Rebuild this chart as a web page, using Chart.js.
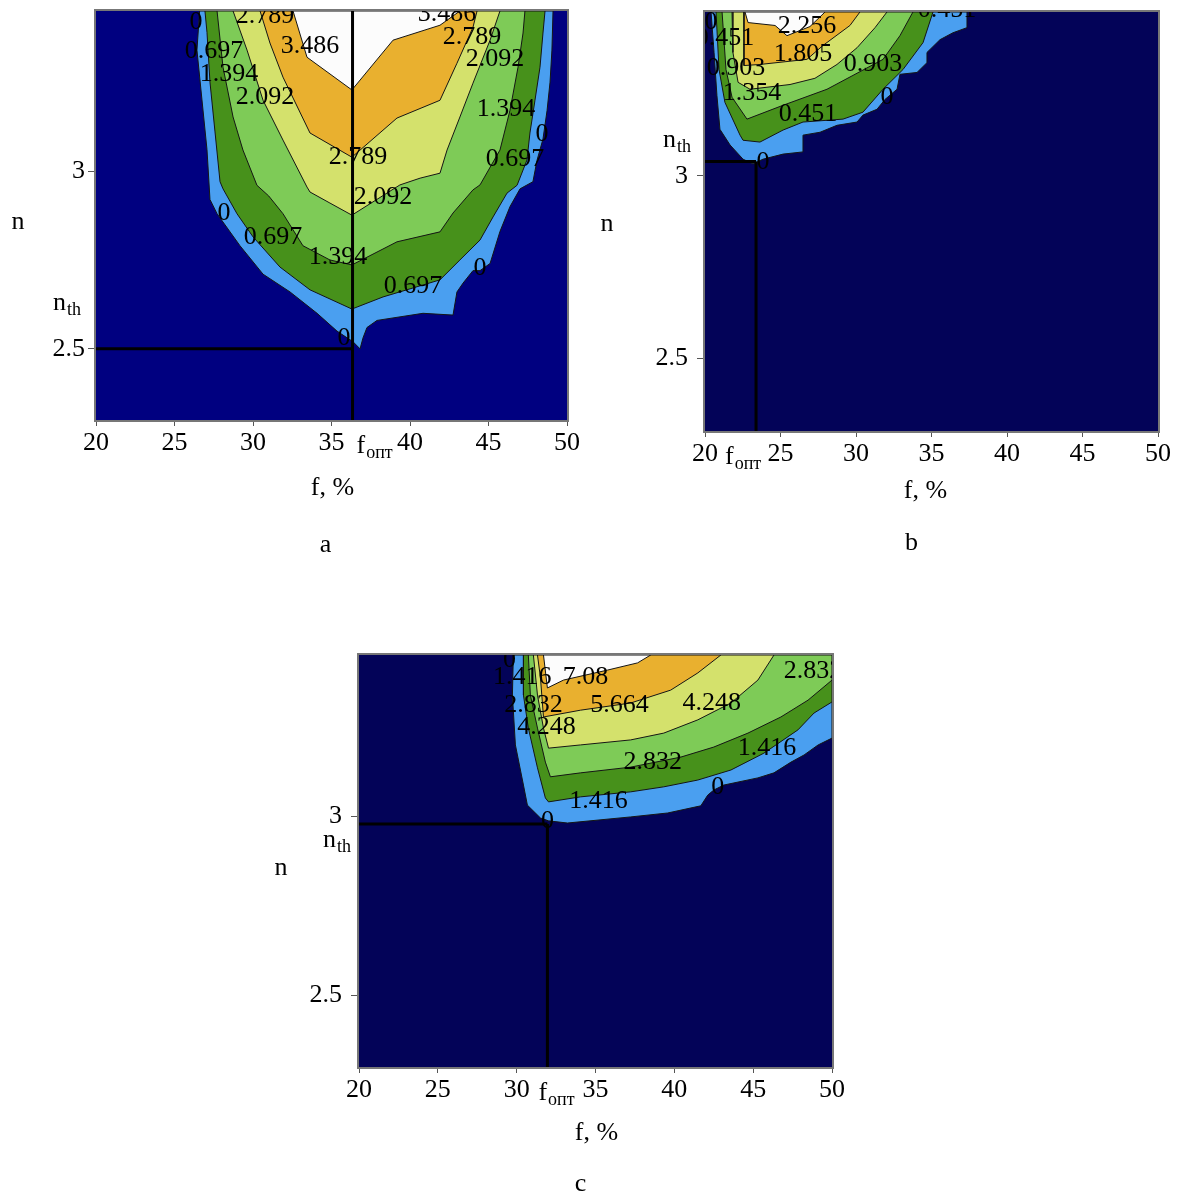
<!DOCTYPE html>
<html>
<head>
<meta charset="utf-8">
<title>n–f contour maps</title>
<script src="https://cdn.jsdelivr.net/npm/chart.js@4.4.1/dist/chart.umd.min.js"></script>
<style>
  body { margin: 0; background: #fff; width: 1177px; height: 1194px; position: relative; overflow: hidden; }
  canvas { position: absolute; }
</style>
</head>
<body>
<canvas id="chartA" width="600" height="580" style="left:0;top:0"></canvas>
<canvas id="chartB" width="577" height="580" style="left:600px;top:0"></canvas>
<canvas id="chartC" width="620" height="594" style="left:240px;top:600px"></canvas>
<script>
// axes shared by all three maps
const fTicks = [20, 25, 30, 35, 40, 45, 50];
const nTicks = [2.5, 3];
const fRange = [20, 50];
const nRange = [2.3, 3.45];

// fill colours, lowest contour band first
const levelColors = ['#4a9ff0', '#47911b', '#7ecb57', '#d4e16c', '#e9b02f', '#fcfcfc'];

// ---- map a ----
const levelsA = [0, 0.697, 1.394, 2.092, 2.789, 3.486];
const contoursA = [
  [[26.6,3.45],[26.43,3.34],[26.75,3.2],[27.07,3.06],[27.26,2.92],[27.71,2.88],[29.17,2.79],[30.64,2.71],[32.36,2.66],[34.08,2.6],[35.35,2.55],[36.37,2.52],[36.82,2.5],[37.0,2.53],[37.26,2.56],[37.9,2.58],[40.83,2.6],[42.74,2.595],[42.99,2.66],[43.38,2.685],[44.01,2.72],[44.46,2.72],[45.1,2.74],[45.73,2.83],[46.37,2.9],[47.01,2.95],[47.83,2.97],[48.09,3.03],[48.47,3.09],[48.73,3.17],[48.92,3.25],[49.04,3.34],[49.11,3.45]],
  [[26.94,3.45],[27.07,3.39],[27.26,3.25],[27.58,3.11],[27.9,2.97],[28.09,2.95],[28.98,2.88],[30.0,2.815],[31.72,2.73],[33.63,2.666],[36.3,2.612],[38.28,2.646],[41.91,2.694],[43.18,2.75],[44.46,2.806],[45.29,2.871],[46.18,2.938],[46.82,2.96],[47.45,3.031],[47.64,3.107],[47.96,3.199],[48.28,3.292],[48.47,3.388],[48.6,3.45]],
  [[27.71,3.45],[28.09,3.292],[28.73,3.152],[29.36,3.059],[30.25,2.96],[31.0,2.93],[31.91,2.88],[33.18,2.79],[34.9,2.75],[36.3,2.736],[39.17,2.801],[41.91,2.829],[42.74,2.882],[44.01,2.947],[44.46,2.961],[45.73,3.059],[46.37,3.171],[46.88,3.292],[47.2,3.388],[47.32,3.45]],
  [[28.73,3.45],[29.62,3.34],[30.64,3.199],[31.91,3.087],[33.44,2.955],[33.63,2.941],[34.9,2.91],[36.3,2.876],[39.36,2.961],[40.64,2.98],[41.91,2.994],[42.36,3.059],[43.18,3.152],[44.01,3.247],[45.1,3.368],[45.73,3.45]],
  [[30.45,3.45],[31.08,3.36],[31.91,3.264],[33.63,3.107],[36.3,3.039],[39.17,3.149],[41.91,3.199],[42.99,3.303],[44.01,3.404],[44.27,3.45]],
  [[32.55,3.45],[33.44,3.32],[36.3,3.228],[38.92,3.368],[41.91,3.41],[43.18,3.45]]
];
// contour labels: f, n, index into levelsA
const labelsA = [
  [26.37,3.419,0],[30.76,3.435,4],[42.36,3.442,5],[27.52,3.337,1],[33.63,3.351,5],[43.95,3.376,4],
  [28.47,3.272,2],[45.41,3.315,3],[30.76,3.208,3],[46.11,3.174,2],[48.41,3.104,0],[36.69,3.039,4],
  [46.69,3.034,1],[38.28,2.927,3],[28.15,2.882,0],[31.27,2.815,1],[35.41,2.758,2],[40.19,2.677,1],
  [44.46,2.728,0],[35.8,2.531,0]
];
const fOptA = 36.34;
const nThA = 2.5;

// ---- map b ----
const levelsB = [0, 0.451, 0.903, 1.354, 1.805, 2.256];
const contoursB = [
  [[20.4,3.45],[20.6,3.339],[20.79,3.221],[20.99,3.128],[21.66,3.085],[22.52,3.046],[23.18,3.033],[23.84,3.046],[25.17,3.06],[26.49,3.066],[26.49,3.112],[27.62,3.12],[28.74,3.139],[30.07,3.148],[30.46,3.167],[31.39,3.183],[31.92,3.21],[32.72,3.238],[32.91,3.279],[34.04,3.284],[34.7,3.311],[34.7,3.339],[35.56,3.374],[36.42,3.393],[37.35,3.407],[37.35,3.45]],
  [[20.73,3.45],[20.93,3.292],[21.32,3.202],[22.32,3.112],[22.52,3.098],[23.64,3.093],[25.17,3.126],[26.49,3.148],[29.14,3.156],[30.46,3.175],[31.79,3.238],[33.11,3.292],[34.44,3.366],[35.1,3.45]],
  [[21.13,3.45],[21.39,3.292],[21.79,3.216],[22.78,3.156],[25.17,3.194],[28.08,3.238],[29.8,3.276],[31.79,3.32],[32.91,3.385],[33.77,3.45]],
  [[21.79,3.45],[21.85,3.339],[22.19,3.257],[22.98,3.238],[25.63,3.251],[27.28,3.268],[28.74,3.306],[30.07,3.352],[31.26,3.407],[32.05,3.45]],
  [[22.58,3.45],[22.58,3.303],[23.64,3.306],[26.75,3.32],[27.81,3.358],[29.6,3.413],[30.26,3.45]],
  [[22.65,3.45],[22.85,3.421],[24.64,3.413],[25.43,3.385],[26.95,3.41],[27.95,3.45]]
];
const labelsB = [
  [20.4,3.421,0],[26.75,3.41,5],[21.32,3.377,1],[36.03,3.454,1],[26.49,3.333,4],[22.05,3.295,2],
  [31.13,3.306,2],[23.11,3.227,3],[32.05,3.216,0],[26.82,3.169,1],[23.84,3.038,0]
];
const fOptB = 23.38;
const nThB = 3.04;

// ---- map c ----
const levelsC = [0, 1.416, 2.832, 4.248, 5.664, 7.08];
const contoursC = [
  [[29.79,3.45],[29.73,3.338],[29.92,3.199],[30.43,3.087],[30.68,3.031],[31.51,2.995],[32.02,2.987],[33.22,2.981],[37.23,2.998],[39.58,3.009],[41.68,3.029],[42.12,3.059],[42.5,3.073],[43.14,3.087],[45.3,3.107],[46.32,3.121],[47.4,3.151],[48.23,3.171],[49.12,3.199],[50,3.218],[50,3.45]],
  [[30.43,3.45],[30.43,3.338],[30.74,3.246],[31.32,3.135],[31.82,3.051],[32.02,3.04],[34.05,3.054],[37.23,3.068],[39.33,3.082],[41.49,3.101],[43.59,3.129],[45.68,3.176],[47.84,3.241],[48.86,3.288],[50,3.319],[50,3.45]],
  [[30.74,3.45],[30.87,3.338],[31.32,3.246],[31.82,3.151],[32.14,3.11],[34.05,3.121],[37.23,3.137],[40.41,3.165],[42.5,3.193],[44.67,3.232],[46.76,3.277],[48.48,3.324],[50,3.38],[50,3.45]],
  [[31.06,3.45],[31.32,3.338],[31.7,3.246],[32.02,3.19],[34.05,3.199],[37.23,3.213],[39.33,3.232],[41.49,3.269],[43.59,3.316],[45.3,3.38],[46.32,3.45]],
  [[31.32,3.45],[31.51,3.386],[31.7,3.277],[34.05,3.296],[37.23,3.316],[39.77,3.352],[41.49,3.4],[42.95,3.45]],
  [[31.7,3.45],[31.95,3.358],[32.97,3.38],[35.77,3.408],[37.67,3.428],[38.5,3.45]]
];
const labelsC = [
  [29.54,3.436,0],[30.36,3.389,1],[34.37,3.389,5],[31.06,3.31,2],[36.53,3.31,4],[42.38,3.316,3],
  [48.8,3.405,2],[31.89,3.249,3],[45.87,3.19,1],[38.63,3.151,2],[42.76,3.082,0],[35.19,3.043,1],
  [31.95,2.987,0]
];
const fOptC = 31.95;
const nThC = 2.978;

const SERIF = '"Liberation Serif", "Times New Roman", serif';
Chart.defaults.font.family = SERIF;
Chart.defaults.font.size = 26;
Chart.defaults.color = '#000';

const panels = [
  {
    canvas: 'chartA', letter: 'a', background: '#000080',
    levels: levelsA, contours: contoursA, labels: labelsA, fOpt: fOptA, nTh: nThA,
    guides: [[[fOptA, nRange[1]], [fOptA, nRange[0]]], [[fRange[0], nThA], [fOptA, nThA]]],
    padding: { left: 0, top: 11, right: 33, bottom: 0 }, yAxisWidth: 96, xAxisHeight: 160, yTickPad: 3,
    text: { nTitleDx: -78, nTitleAt: 2.857, nthDx: -43, nthDy: -39, foptDx: 4, fTitleDx: 1, fTitleDy: 68, letterDx: -6, letterDy: 125 }
  },
  {
    canvas: 'chartB', letter: 'b', background: '#030358',
    levels: levelsB, contours: contoursB, labels: labelsB, fOpt: fOptB, nTh: nThB,
    guides: [[[fOptB, nThB], [fOptB, nRange[0]]], [[fRange[0], nThB], [fOptB, nThB]]],
    padding: { left: 0, top: 12, right: 19, bottom: 0 }, yAxisWidth: 105, xAxisHeight: 149, yTickPad: 9,
    text: { nTitleDx: -98, nTitleAt: 2.868, nthDx: -42, nthDy: -14, foptDx: -31, fTitleDx: -6, fTitleDy: 60, letterDx: -20, letterDy: 112 }
  },
  {
    canvas: 'chartC', letter: 'c', background: '#030358',
    levels: levelsC, contours: contoursC, labels: labelsC, fOpt: fOptC, nTh: nThC,
    guides: [[[fOptC, nThC], [fOptC, nRange[0]]], [[fRange[0], nThC], [fOptC, nThC]]],
    padding: { left: 0, top: 55, right: 28, bottom: 0 }, yAxisWidth: 119, xAxisHeight: 127, yTickPad: 9,
    text: { nTitleDx: -78, nTitleAt: 2.855, nthDx: -36, nthDy: 23, foptDx: -9, fTitleDx: 1, fTitleDy: 66, letterDx: -15, letterDy: 117 }
  }
];

// text with a lowered subscript, e.g. n_th
function withSub(ctx, x, y, main, sub) {
  ctx.font = '26px ' + SERIF;
  ctx.textAlign = 'left';
  ctx.textBaseline = 'alphabetic';
  ctx.fillText(main, x, y);
  const w = ctx.measureText(main).width;
  ctx.font = '18px ' + SERIF;
  ctx.fillText(sub, x + w + 1, y + 5);
}

function decorPlugin(p) {
  return {
    id: 'panelDecor',
    beforeDatasetsDraw(chart) {
      const { ctx, chartArea: a } = chart;
      ctx.save();
      ctx.fillStyle = p.background;
      ctx.fillRect(a.left, a.top, a.right - a.left, a.bottom - a.top);
      ctx.restore();
    },
    afterDatasetsDraw(chart) {
      const { ctx, chartArea: a, scales: { x, y } } = chart;
      // contour values, cut off at the plot edge
      ctx.save();
      ctx.beginPath();
      ctx.rect(a.left, a.top, a.right - a.left, a.bottom - a.top);
      ctx.clip();
      ctx.font = '26px ' + SERIF;
      ctx.fillStyle = '#000';
      ctx.textAlign = 'center';
      ctx.textBaseline = 'middle';
      p.labels.forEach(([f, n, k]) => {
        ctx.fillText(String(p.levels[k]), x.getPixelForValue(f), y.getPixelForValue(n));
      });
      ctx.restore();

      ctx.save();
      ctx.strokeStyle = '#777';
      ctx.lineWidth = 2;
      ctx.strokeRect(a.left - 1, a.top - 1, a.right - a.left + 2, a.bottom - a.top + 2);
      ctx.restore();
    },
    afterDraw(chart) {
      const { ctx, chartArea: a, scales: { x, y } } = chart;
      const t = p.text;
      const cx = (a.left + a.right) / 2;
      ctx.save();
      ctx.fillStyle = '#000';
      ctx.font = '26px ' + SERIF;
      ctx.textAlign = 'center';
      ctx.textBaseline = 'middle';
      ctx.fillText('n', a.left + t.nTitleDx, y.getPixelForValue(t.nTitleAt));
      ctx.fillText('f, %', cx + t.fTitleDx, a.bottom + t.fTitleDy);
      ctx.fillText(p.letter, cx + t.letterDx, a.bottom + t.letterDy);
      withSub(ctx, a.left + t.nthDx, y.getPixelForValue(p.nTh) + t.nthDy, 'n', 'th');
      withSub(ctx, x.getPixelForValue(p.fOpt) + t.foptDx, a.bottom + 32.5, 'f', 'опт');
      ctx.restore();
    }
  };
}

// keep the plot box where the layout puts it, without room for half-labels
function noLabelPadding(axis) {
  axis.paddingTop = 0;
  axis.paddingBottom = 0;
  axis.paddingLeft = 0;
  axis.paddingRight = 0;
}

function buildPanel(p) {
  // bands are stacked: outer (lowest) contour underneath, inner ones on top
  const datasets = p.contours.map((pts, i) => ({
    data: pts.concat([pts[0]]).map(([f, n]) => ({ x: f, y: n })),
    showLine: true,
    fill: 'shape',
    backgroundColor: levelColors[i],
    borderColor: '#151515',
    borderWidth: 1,
    pointRadius: 0,
    tension: 0,
    order: 20 - i
  }));
  p.guides.forEach(seg => datasets.push({
    data: seg.map(([f, n]) => ({ x: f, y: n })),
    showLine: true,
    fill: false,
    borderColor: '#000',
    borderWidth: 3,
    pointRadius: 0,
    order: 0
  }));

  return new Chart(document.getElementById(p.canvas), {
    type: 'scatter',
    data: { datasets },
    options: {
      responsive: false,
      animation: false,
      events: [],
      layout: { padding: p.padding },
      plugins: { legend: { display: false }, tooltip: { enabled: false } },
      scales: {
        x: {
          type: 'linear', min: fRange[0], max: fRange[1],
          afterBuildTicks: axis => { axis.ticks = fTicks.map(v => ({ value: v })); },
          afterFit: axis => { axis.height = p.xAxisHeight; noLabelPadding(axis); },
          grid: { drawOnChartArea: false, tickLength: 6, color: '#555' },
          border: { display: false },
          ticks: { padding: 2, maxRotation: 0, autoSkip: false, callback: v => String(v) }
        },
        y: {
          type: 'linear', min: nRange[0], max: nRange[1],
          afterBuildTicks: axis => { axis.ticks = nTicks.map(v => ({ value: v })); },
          afterFit: axis => { axis.width = p.yAxisWidth; noLabelPadding(axis); },
          grid: { drawOnChartArea: false, tickLength: 8, color: '#555' },
          border: { display: false },
          ticks: { padding: p.yTickPad, autoSkip: false, callback: v => String(v) }
        }
      }
    },
    plugins: [decorPlugin(p)]
  });
}

panels.forEach(buildPanel);
</script>
</body>
</html>
